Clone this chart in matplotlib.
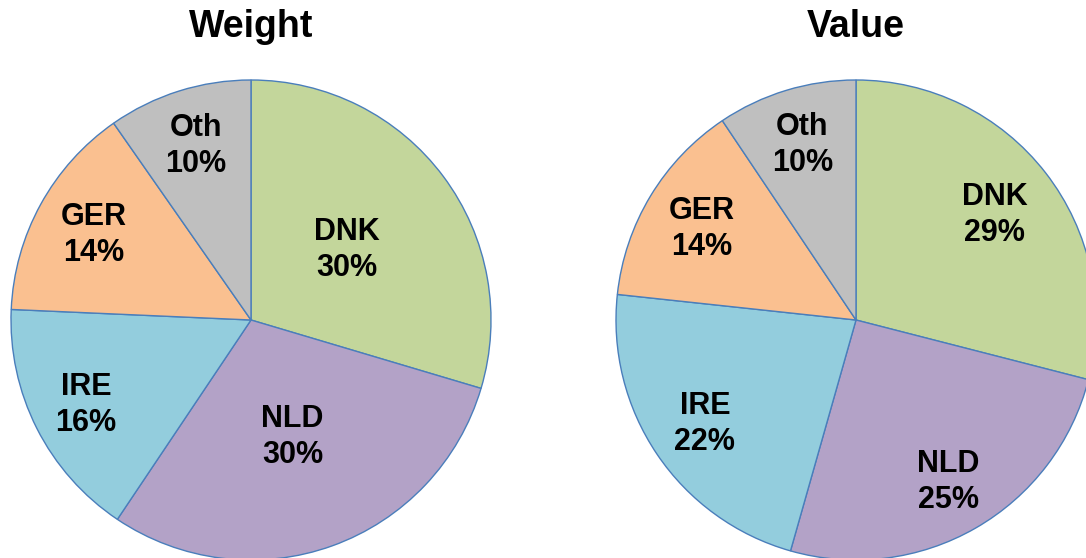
import numpy as np
import matplotlib.pyplot as plt

plt.rcParams['font.family'] = ['Liberation Sans', 'DejaVu Sans']

countries = ['DNK', 'NLD', 'IRE', 'GER', 'Oth']
# wedge sizes, labels as printed
weight_share = [29.6, 29.8, 16.3, 14.6, 9.7]
weight_labels = [30, 30, 16, 14, 10]
value_share = [29.0, 25.4, 22.3, 13.9, 9.4]
value_labels = [29, 25, 22, 14, 10]
colors = ['#C3D69B', '#B3A2C7', '#93CDDD', '#FAC090', '#BFBFBF']

W, H = 1086, 558
fig = plt.figure(figsize=(W / 100, H / 100), dpi=100)
ax = fig.add_axes([0, 0, 1, 1])

R = 240
charts = [
    ('Weight', weight_share, weight_labels, (251, H - 320), [0.5, 0.51, 0.77, 0.75, 0.77]),
    ('Value', value_share, value_labels, (856, H - 320), [0.73, 0.77, 0.76, 0.75, 0.77]),
]

for title, shares, pcts, (cx, cy), label_r in charts:
    wedges, _ = ax.pie(shares, colors=colors, startangle=90, counterclock=False,
                       center=(cx, cy), radius=R, normalize=True,
                       wedgeprops=dict(edgecolor='#4A7EBB', linewidth=1.0))
    # labels placed inside each wedge along its middle angle
    for w, name, pct, f in zip(wedges, countries, pcts, label_r):
        mid = np.deg2rad((w.theta1 + w.theta2) / 2)
        x = cx + f * R * np.cos(mid)
        y = cy + f * R * np.sin(mid) - 2
        ax.text(x, y, f'{name}\n{pct}%', ha='center', va='center',
                fontsize=22, fontweight='bold', linespacing=1.27)
    ax.text(cx, H - 37, title, ha='center', va='baseline',
            fontsize=27, fontweight='bold')

ax.set_xlim(0, W)
ax.set_ylim(0, H)
ax.set_aspect('auto')
ax.axis('off')

fig.savefig('out.png', dpi=100)
